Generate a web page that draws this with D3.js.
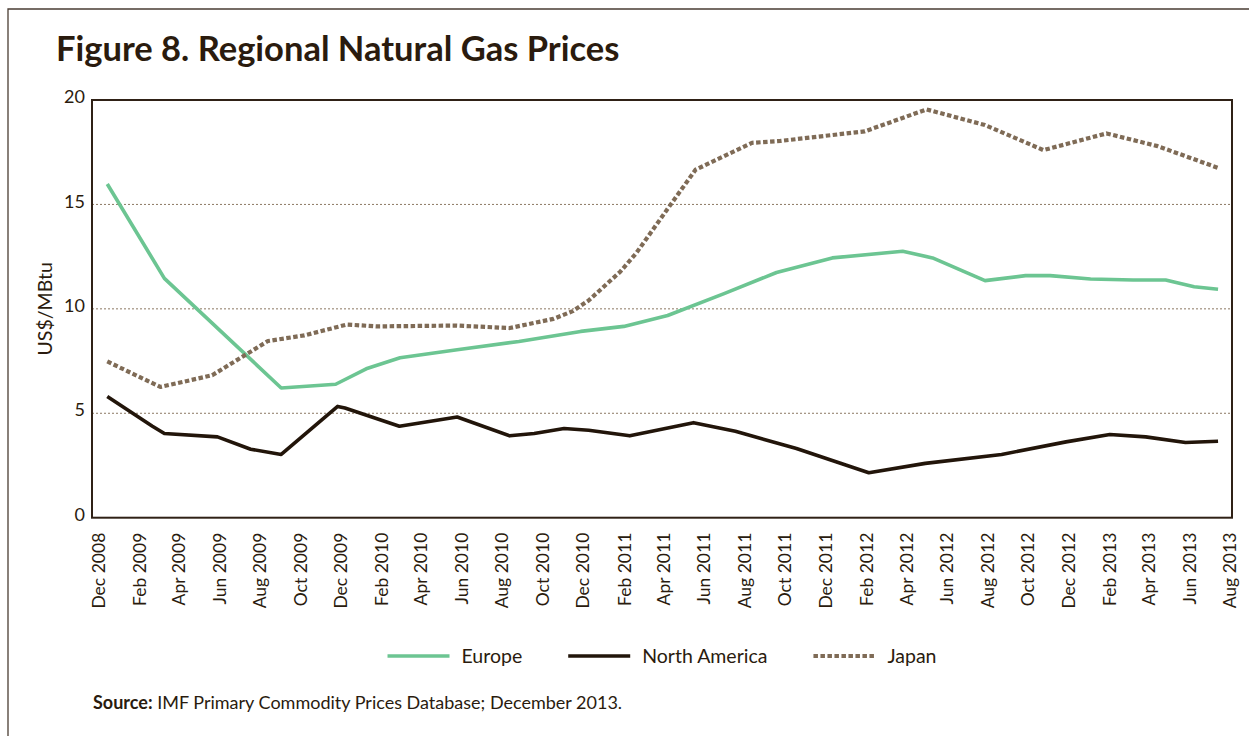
<!DOCTYPE html>
<html>
<head>
<meta charset="utf-8">
<script src="https://cdn.jsdelivr.net/npm/d3@7"></script>
<style>
  body { margin: 0; background: #fff; }
  text { font-family: Lato, "Open Sans", sans-serif; fill: #2a1b0e; }
</style>
</head>
<body>
<svg id="chart" width="1249" height="736"></svg>
<script>
// values, dates are the line vertices
var europeDates = ['2008-12-15', '2009-03-11', '2009-09-03', '2009-11-24', '2010-01-09',
  '2010-03-01', '2010-05-26', '2010-08-27', '2010-11-28', '2011-02-01', '2011-04-08',
  '2011-07-02', '2011-09-19', '2011-12-12', '2012-03-27', '2012-05-11', '2012-07-29',
  '2012-09-28', '2012-11-04', '2013-01-04', '2013-03-09', '2013-04-27', '2013-06-09',
  '2013-07-15'];
var europeValues = [15.98, 11.46, 6.21, 6.39, 7.13, 7.66, 8.04, 8.44, 8.92, 9.16, 9.68,
  10.73, 11.74, 12.44, 12.76, 12.44, 11.35, 11.59, 11.59, 11.43, 11.38, 11.38, 11.06,
  10.94];

var northAmericaDates = ['2008-12-15', '2009-02-21', '2009-03-11', '2009-05-30',
  '2009-07-19', '2009-09-03', '2009-11-27', '2009-12-08', '2010-02-28', '2010-05-26',
  '2010-08-13', '2010-09-19', '2010-11-03', '2010-12-10', '2011-02-10', '2011-05-17',
  '2011-07-19', '2011-10-19', '2012-02-05', '2012-04-30', '2012-08-23', '2012-11-28',
  '2013-02-02', '2013-03-28', '2013-05-27', '2013-07-15'];
var northAmericaValues = [5.8, 4.38, 4.03, 3.87, 3.28, 3.03, 5.33, 5.25, 4.38, 4.82,
  3.92, 4.03, 4.27, 4.19, 3.92, 4.55, 4.14, 3.31, 2.15, 2.6, 3.03, 3.63, 3.98, 3.87,
  3.6, 3.66];

var japanDates = ['2008-12-15', '2009-03-05', '2009-05-22', '2009-08-14', '2009-10-08',
  '2009-12-11', '2010-01-25', '2010-05-25', '2010-08-13', '2010-10-18', '2010-11-16',
  '2010-12-10', '2011-01-27', '2011-02-20', '2011-04-08', '2011-05-20', '2011-08-13',
  '2011-09-25', '2012-01-30', '2012-05-02', '2012-07-29', '2012-10-25', '2013-01-28',
  '2013-04-15', '2013-07-15'];
var japanValues = [7.48, 6.26, 6.82, 8.46, 8.73, 9.25, 9.16, 9.2, 9.08, 9.52, 9.89,
  10.4, 11.79, 12.68, 14.79, 16.66, 17.95, 18.04, 18.5, 19.55, 18.8, 17.6, 18.4,
  17.79, 16.75];

var yTicks = [0, 5, 10, 15, 20];
var seriesNames = ['Europe', 'North America', 'Japan'];

var parseDate = d3.timeParse('%Y-%m-%d');
var svg = d3.select('#chart');

var margin = { left: 92, right: 1232, top: 100, bottom: 517.7 };

var x = d3.scaleTime()
    .domain([new Date(2008, 10, 22), new Date(2013, 7, 5)])
    .range([margin.left, margin.right]);

var y = d3.scaleLinear()
    .domain([0, 20])
    .range([margin.bottom, margin.top]);

// outer frame, runs off the page to the right and bottom
svg.append('path')
    .attr('d', 'M8,740V9H1260')
    .attr('fill', 'none')
    .attr('stroke', '#4a3d33')
    .attr('stroke-width', 1.3);

svg.append('text')
    .attr('x', 56)
    .attr('y', 61)
    .attr('font-size', 34.5)
    .attr('font-weight', 700)
    .text('Figure 8. Regional Natural Gas Prices');

// dotted gridlines
svg.append('g').selectAll('line')
    .data(yTicks.filter(function(d) { return d > 0 && d < 20; }))
    .enter().append('line')
    .attr('x1', margin.left)
    .attr('x2', margin.right)
    .attr('y1', function(d) { return y(d); })
    .attr('y2', function(d) { return y(d); })
    .attr('stroke', '#8c7863')
    .attr('stroke-width', 1)
    .attr('stroke-dasharray', '2,2');

var yAxis = svg.append('g')
    .attr('transform', 'translate(' + margin.left + ',0)')
    .call(d3.axisLeft(y).tickValues(yTicks).tickSize(0).tickPadding(7));
yAxis.select('.domain').remove();
yAxis.selectAll('text')
    .attr('font-size', 18)
    .attr('dy', '0.15em')
    .style('font-family', 'Lato, sans-serif')
    .style('fill', '#2a1b0e');

svg.append('text')
    .attr('transform', 'translate(52,' + y(10) + ') rotate(-90)')
    .attr('text-anchor', 'middle')
    .attr('font-size', 19.5)
    .text('US$/MBtu');

var xTicks = d3.timeMonth.range(new Date(2008, 11, 1), new Date(2013, 7, 2), 2);
var xAxis = svg.append('g')
    .attr('transform', 'translate(0,' + margin.bottom + ')')
    .call(d3.axisBottom(x).tickValues(xTicks).tickFormat(d3.timeFormat('%b %Y')).tickSize(0));
xAxis.select('.domain').remove();
xAxis.selectAll('text')
    .attr('transform', 'rotate(-90)')
    .attr('text-anchor', 'end')
    .attr('x', -15)
    .attr('y', 0)
    .attr('dy', '0.36em')
    .attr('font-size', 17.5)
    .style('font-family', 'Lato, sans-serif')
    .style('fill', '#2a1b0e');

// plot frame
svg.append('rect')
    .attr('x', margin.left)
    .attr('y', margin.top)
    .attr('width', margin.right - margin.left)
    .attr('height', margin.bottom - margin.top)
    .attr('fill', 'none')
    .attr('stroke', '#2f2116')
    .attr('stroke-width', 2);

var series = [
  { name: seriesNames[0], dates: europeDates, values: europeValues, color: '#6cc592', dash: null, width: 3.6 },
  { name: seriesNames[1], dates: northAmericaDates, values: northAmericaValues, color: '#22150a', dash: null, width: 3.6 },
  { name: seriesNames[2], dates: japanDates, values: japanValues, color: '#7f6b56', dash: '4.5,2.5', width: 4.2 }
];

var line = d3.line()
    .x(function(d) { return x(d.date); })
    .y(function(d) { return y(d.value); });

series.forEach(function(s) {
  var points = s.dates.map(function(d, i) {
    return { date: parseDate(d), value: s.values[i] };
  });
  svg.append('path')
      .datum(points)
      .attr('d', line)
      .attr('fill', 'none')
      .attr('stroke', s.color)
      .attr('stroke-width', s.width)
      .attr('stroke-linejoin', 'round')
      .attr('stroke-dasharray', s.dash);
});

// legend, centred under the plot
var legend = svg.append('g');
var cursor = 0;
series.forEach(function(s, i) {
  var item = legend.append('g').attr('transform', 'translate(' + cursor + ',0)');
  item.append('line')
      .attr('x1', 0)
      .attr('x2', 62)
      .attr('y1', 0)
      .attr('y2', 0)
      .attr('stroke', s.color)
      .attr('stroke-width', s.width)
      .attr('stroke-dasharray', s.dash);
  var label = item.append('text')
      .attr('x', 74)
      .attr('y', 7)
      .attr('font-size', 19.5)
      .text(s.name);
  cursor += 74 + label.node().getComputedTextLength() + 46;
});
var legendWidth = cursor - 46;
legend.attr('transform', 'translate(' + ((margin.left + margin.right) / 2 - legendWidth / 2) + ',656)');

var source = svg.append('text')
    .attr('x', 93)
    .attr('y', 709)
    .attr('font-size', 18);
source.append('tspan').attr('font-weight', 700).text('Source:');
source.append('tspan').text(' IMF Primary Commodity Prices Database; December 2013.');
</script>
</body>
</html>
